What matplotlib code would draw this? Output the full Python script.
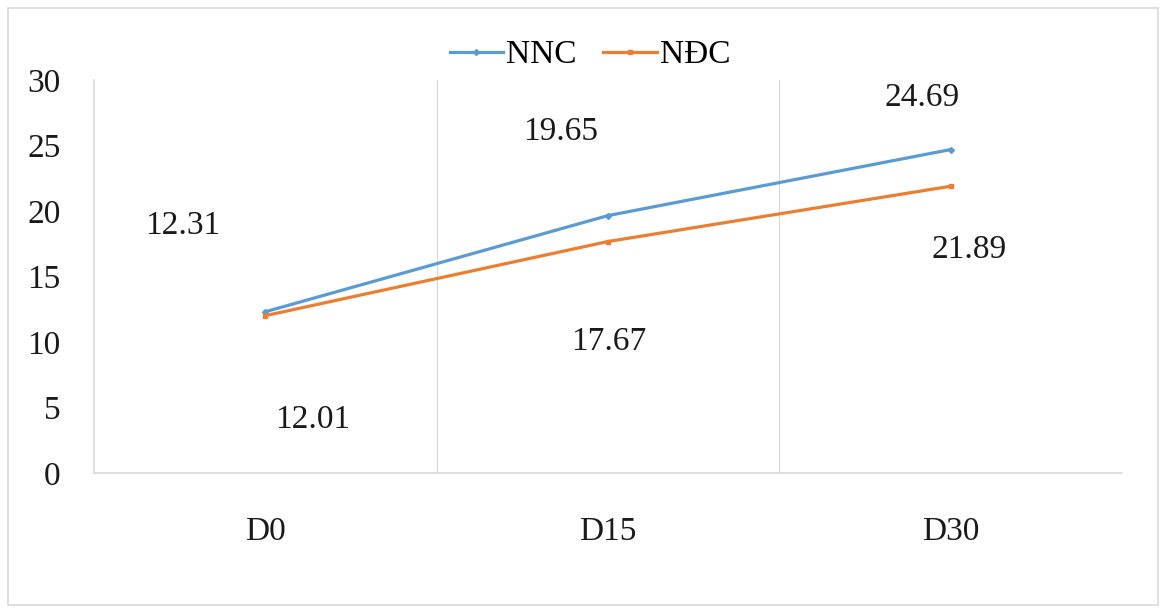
import matplotlib
matplotlib.use("Agg")
import matplotlib.pyplot as plt
from matplotlib.patches import Rectangle

# Data
categories = ["D0", "D15", "D30"]
nnc = [12.31, 19.65, 24.69]
ndc = [12.01, 17.67, 21.89]
y_ticks = [0, 5, 10, 15, 20, 25, 30]

plt.rcParams["font.family"] = ["Liberation Serif", "DejaVu Serif"]

fig = plt.figure(figsize=(11.65, 6.13), dpi=100)
fig.patch.set_facecolor("white")
fig.patches.append(Rectangle((8 / 1165, 8 / 613), 1150 / 1165, 597 / 613,
                             transform=fig.transFigure, fill=False,
                             edgecolor="#D9D9D9", linewidth=1.2))

ax = fig.add_axes([0.0807, 0.2284, 0.8824, 0.6411])
x = list(range(len(categories)))

blue = "#5B9BD5"
orange = "#ED7D31"
l1, = ax.plot(x, nnc, color=blue, linewidth=2.3, marker="D", markersize=3,
              label="NNC")
l2, = ax.plot(x, ndc, color=orange, linewidth=2.3, marker="s", markersize=3.5,
              label="NĐC")

ax.set_xlim(-0.5, 2.5)
ax.set_ylim(0, 30)
ax.set_yticks(y_ticks)
ax.set_xticks(x)
ax.set_xticklabels(categories)

# category separators
for xv in [0.5, 1.5]:
    ax.axvline(xv, color="#D9D9D9", linewidth=0.9, zorder=0)

for s in ["top", "right"]:
    ax.spines[s].set_visible(False)
for s in ["left", "bottom"]:
    ax.spines[s].set_color("#D9D9D9")
    ax.spines[s].set_linewidth(1.2)

ax.tick_params(axis="both", length=0, labelsize=24, colors="#1a1a1a")
ax.tick_params(axis="y", pad=24)
ax.tick_params(axis="x", pad=31)

# value labels (offsets in pixels)
offs_nnc = [(-83, 86), (-47, 84), (-29, 52)]
offs_ndc = [(47, -104), (1, -100), (18, -64)]
for xi, v, o in zip(x, nnc, offs_nnc):
    ax.annotate(f"{v:.2f}", (xi, v), xytext=o, textcoords="offset pixels",
                ha="center", va="center", fontsize=24, color="#1a1a1a")
for xi, v, o in zip(x, ndc, offs_ndc):
    ax.annotate(f"{v:.2f}", (xi, v), xytext=o, textcoords="offset pixels",
                ha="center", va="center", fontsize=24, color="#1a1a1a")

fig.legend(handles=[l1, l2], loc="center", bbox_to_anchor=(590 / 1165, 1 - 55 / 613),
           ncol=2, frameon=False, fontsize=24, handlelength=1.6,
           handletextpad=0.1, columnspacing=0.8, borderaxespad=0)

fig.savefig("out.png", dpi=100, facecolor="white")
